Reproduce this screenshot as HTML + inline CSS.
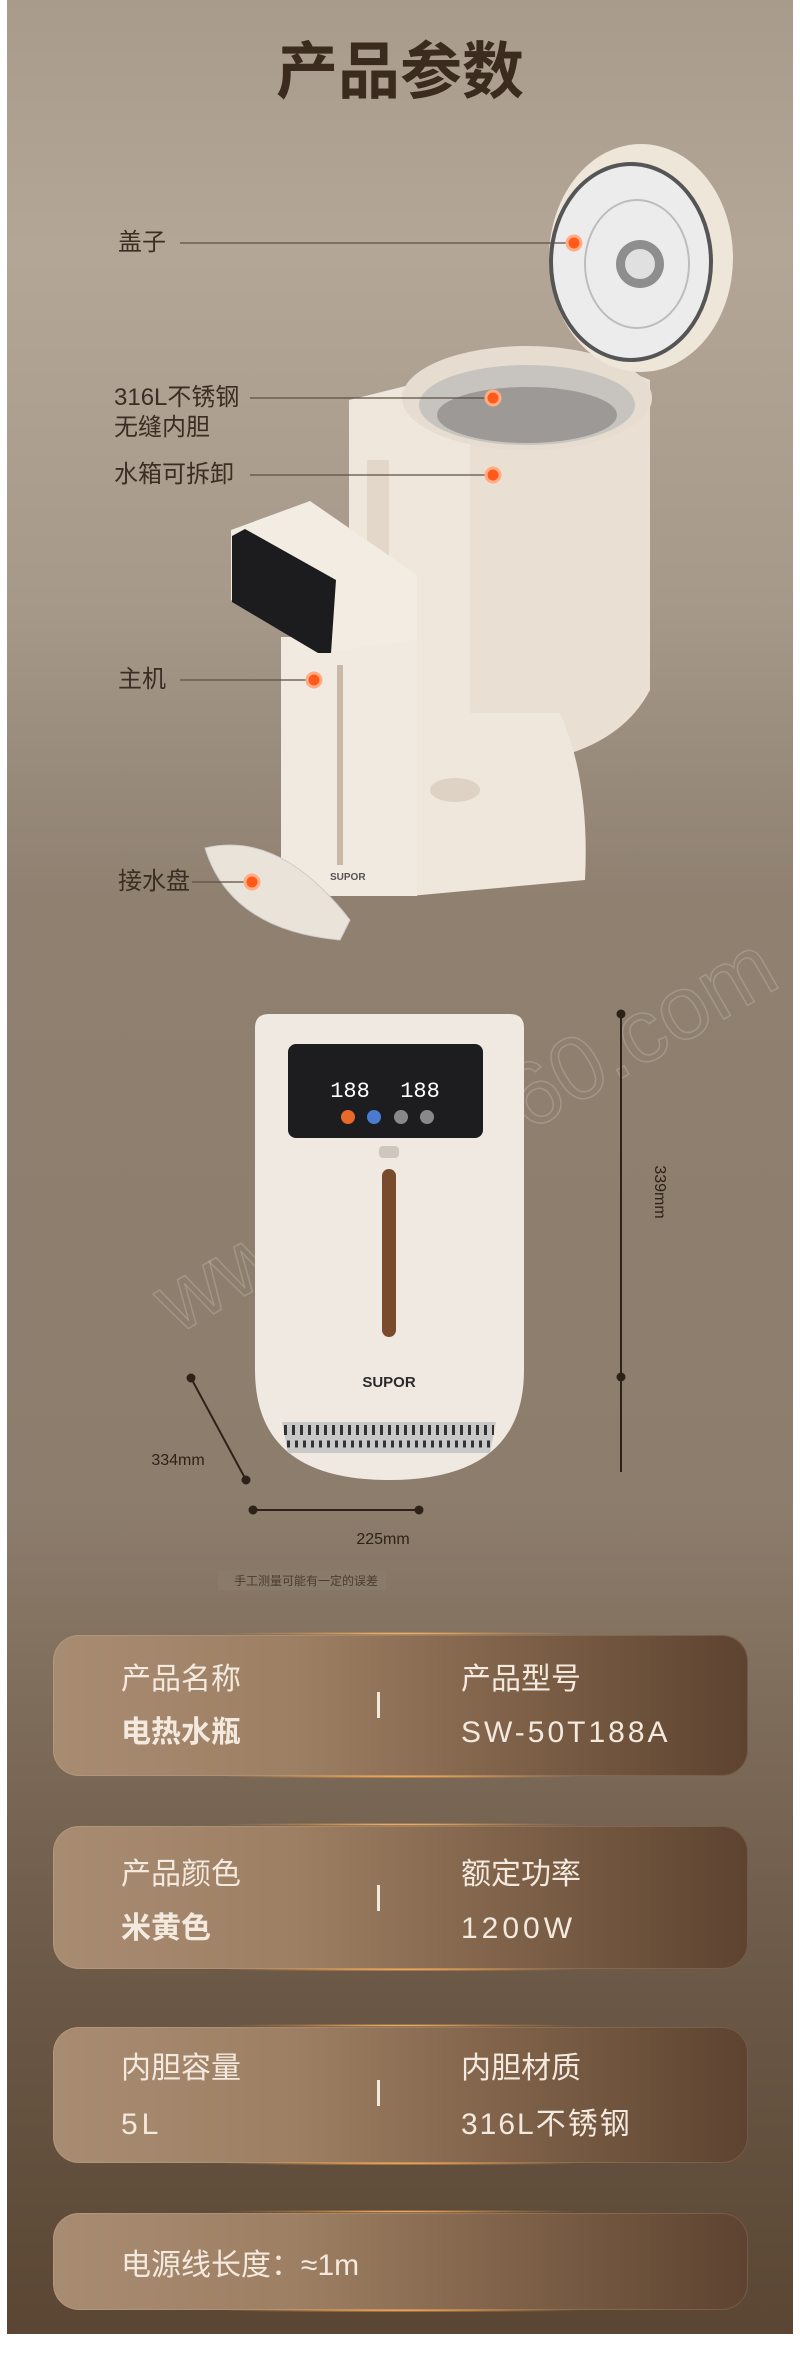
<!DOCTYPE html>
<html><head><meta charset="utf-8"><style>
*{margin:0;padding:0}
body{width:800px;height:2376px;background:#fff;overflow:hidden;font-family:"Liberation Sans","Noto Sans CJK SC",sans-serif}
#bg{position:absolute;left:7px;top:0;width:786px;height:2334px;background:linear-gradient(180deg,#a99b8c 0px,#b4a697 250px,#a6998a 600px,#8f8070 900px,#8d7d6c 1500px,#7f6d5b 1700px,#6a5745 2000px,#5a4633 2334px)}
.lab{position:absolute;color:#3a2d22;font-size:24px;line-height:30px;white-space:nowrap}
.card{position:absolute;left:53px;width:695px;border-radius:26px;background:linear-gradient(90deg,#a88c72 0%,#9d7f63 35%,#7f6249 65%,#5d4330 100%);box-shadow:0 0 0 1px rgba(255,220,180,.15) inset}
.card:after{content:"";position:absolute;left:25%;right:25%;bottom:-2px;height:3px;background:radial-gradient(ellipse at center,#ffb25a 0%,rgba(255,170,80,.5) 40%,rgba(255,170,80,0) 75%)}
.card:before{content:"";position:absolute;left:25%;right:25%;top:-3px;height:3px;background:radial-gradient(ellipse at center,#ffc07a 0%,rgba(255,170,80,.4) 40%,rgba(255,170,80,0) 75%)}
.t{position:absolute;color:#f3e9de;font-size:30px;line-height:34px;white-space:nowrap}
.l{letter-spacing:4px}
.div{position:absolute;left:324px;width:3px;height:26px;background:#f3e9de}
</style></head><body>
<div id="bg"></div>
<svg style="position:absolute;left:0;top:0" width="800" height="1700">
<text x="400" y="93" text-anchor="middle" font-family="Liberation Sans,Noto Sans CJK SC,sans-serif" font-size="62" font-weight="bold" fill="#3b2b1f">产品参数</text>
<!-- tank -->
<path d="M349 400 L470 370 L470 767 L349 767 Z" fill="#efe7dc"/>
<path d="M470 370 Q560 340 650 380 L650 690 Q610 767 470 767 Z" fill="#e9dfd2"/>
<ellipse cx="527" cy="398" rx="125" ry="52" fill="#e6dccf"/>
<ellipse cx="527" cy="405" rx="108" ry="40" fill="#c7c3bf"/>
<ellipse cx="527" cy="415" rx="90" ry="28" fill="#9d9996"/>
<rect x="367" y="460" width="22" height="300" fill="#e2d7c8"/>
<!-- base -->
<path d="M410 713 L560 713 Q590 780 585 880 L410 896 Z" fill="#efe7dc"/>
<ellipse cx="455" cy="790" rx="25" ry="12" fill="#ddd2c3"/>
<!-- main unit -->
<rect x="281" y="637" width="136" height="259" fill="#f1eae0"/>
<path d="M231 530 L310 501 L417 575 L417 640 L318 653 L231 600 Z" fill="#f3ece3"/>
<path d="M232 536 L245 529 L336 580 L331 653 L318 653 L232 602 Z" fill="#1c1c1e"/>
<rect x="337" y="665" width="6" height="200" fill="#c9b8a6"/>
<text x="330" y="880" font-size="10" font-weight="bold" fill="#555">SUPOR</text>
<!-- lid -->
<ellipse cx="641" cy="258" rx="92" ry="114" fill="#efe6da"/>
<ellipse cx="631" cy="262" rx="82" ry="100" fill="#555"/>
<ellipse cx="631" cy="262" rx="78" ry="96" fill="#ececec"/>
<ellipse cx="637" cy="264" rx="52" ry="64" fill="none" stroke="#bdbdbd" stroke-width="2"/>
<circle cx="640" cy="264" r="24" fill="#8e8e8e"/>
<circle cx="640" cy="264" r="15" fill="#e0e0e0"/>
<!-- tray -->
<path d="M205 848 Q280 830 350 920 L340 940 Q230 930 205 848 Z" fill="#eae3da" stroke="#ccc" stroke-width="1"/>
<!-- callouts -->
<g stroke="#5d4f44" stroke-width="1.2">
<line x1="180" y1="243" x2="574" y2="243"/>
<line x1="250" y1="398" x2="493" y2="398"/>
<line x1="250" y1="475" x2="493" y2="475"/>
<line x1="180" y1="680" x2="314" y2="680"/>
<line x1="192" y1="882" x2="252" y2="882"/>
</g>
<g fill="#ff5a1a" stroke="#ffad85" stroke-width="3">
<circle cx="574" cy="243" r="7"/><circle cx="493" cy="398" r="7"/><circle cx="493" cy="475" r="7"/><circle cx="314" cy="680" r="7"/><circle cx="252" cy="882" r="7"/>
</g>
<!-- front kettle -->
<text x="480" y="1160" text-anchor="middle" font-size="90" fill="none" stroke="rgba(255,255,255,.18)" stroke-width="1.5" transform="rotate(-30 480 1160)">www.zkh360.com</text>
<path d="M255 1028 Q255 1014 269 1014 L510 1014 Q524 1014 524 1028 L524 1370 Q524 1480 389 1480 Q255 1480 255 1370 Z" fill="#efe9e1"/>
<rect x="288" y="1044" width="195" height="94" rx="8" fill="#1d1d1f"/>
<text x="350" y="1097" text-anchor="middle" font-size="22" fill="#fff" font-family="Liberation Mono,monospace">188</text>
<text x="420" y="1097" text-anchor="middle" font-size="22" fill="#fff" font-family="Liberation Mono,monospace">188</text>
<circle cx="348" cy="1117" r="7" fill="#e86a2a"/><circle cx="374" cy="1117" r="7" fill="#4b7bd0"/><circle cx="401" cy="1117" r="7" fill="#888"/><circle cx="427" cy="1117" r="7" fill="#888"/>
<rect x="379" y="1146" width="20" height="12" rx="4" fill="#cfc7bd"/>
<rect x="382" y="1169" width="14" height="168" rx="7" fill="#7a4a2c"/>
<text x="389" y="1387" text-anchor="middle" font-size="15" font-weight="bold" fill="#2b2b2b">SUPOR</text>
<path d="M282 1422 L496 1422 L490 1453 L288 1453 Z" fill="#c9c9c9"/>
<path d="M284 1430 L494 1430" stroke="#333" stroke-width="10" stroke-dasharray="3 5"/>
<path d="M287 1444 L491 1444" stroke="#333" stroke-width="7" stroke-dasharray="3 5"/>
<!-- dims -->
<g stroke="#2e2218" stroke-width="2" fill="#2e2218">
<line x1="621" y1="1014" x2="621" y2="1472"/><circle cx="621" cy="1014" r="3.5"/><circle cx="621" cy="1377" r="3.5"/>
<line x1="191" y1="1378" x2="246" y2="1480"/><circle cx="191" cy="1378" r="3.5"/><circle cx="246" cy="1480" r="3.5"/>
<line x1="253" y1="1510" x2="419" y2="1510"/><circle cx="253" cy="1510" r="3.5"/><circle cx="419" cy="1510" r="3.5"/>
</g>
<text x="655" y="1192" text-anchor="middle" font-size="16" fill="#2e2218" transform="rotate(90 655 1192)">339mm</text>
<text x="178" y="1465" text-anchor="middle" font-size="16" fill="#2e2218">334mm</text>
<text x="383" y="1544" text-anchor="middle" font-size="16" fill="#2e2218">225mm</text>
<rect x="218" y="1570" width="168" height="20" fill="rgba(140,125,110,.5)"/>
<text x="306" y="1585" text-anchor="middle" font-size="12" fill="#4a3c30">手工测量可能有一定的误差</text>
</svg>
<div class="lab" style="left:118px;top:228px">盖子</div>
<div class="lab" style="left:114px;top:383px">316L不锈钢<br>无缝内胆</div>
<div class="lab" style="left:114px;top:460px">水箱可拆卸</div>
<div class="lab" style="left:118px;top:665px">主机</div>
<div class="lab" style="left:118px;top:867px">接水盘</div>

<div class="card" style="top:1635px;height:141px">
<div class="t" style="left:68px;top:28px">产品名称</div><div class="t" style="left:68px;top:81px;font-weight:bold">电热水瓶</div>
<div class="div" style="top:57px"></div>
<div class="t" style="left:408px;top:28px">产品型号</div><div class="t" style="left:408px;top:81px;letter-spacing:3px">SW-50T188A</div></div>
<div class="card" style="top:1826px;height:143px">
<div class="t" style="left:68px;top:32px">产品颜色</div><div class="t" style="left:68px;top:86px;font-weight:bold">米黄色</div>
<div class="div" style="top:59px"></div>
<div class="t" style="left:408px;top:32px">额定功率</div><div class="t l" style="left:408px;top:86px">1200W</div></div>
<div class="card" style="top:2027px;height:136px">
<div class="t" style="left:68px;top:25px">内胆容量</div><div class="t l" style="left:68px;top:81px">5L</div>
<div class="div" style="top:53px"></div>
<div class="t" style="left:408px;top:25px">内胆材质</div><div class="t" style="left:408px;top:81px;letter-spacing:2px">316L不锈钢</div></div>
<div class="card" style="top:2213px;height:97px">
<div class="t" style="left:68px;top:36px">电源线长度：≈1m</div></div>
</body></html>
